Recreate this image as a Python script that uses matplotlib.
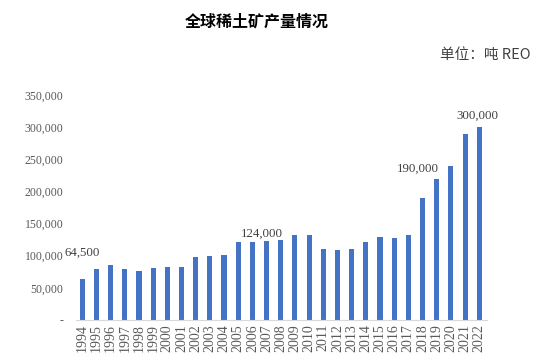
import matplotlib.pyplot as plt
from matplotlib.ticker import FuncFormatter

# global rare earth mine production, tonnes REO
years = [str(y) for y in range(1994, 2023)]
output = [64500, 80000, 85000, 80000, 76000, 81000, 83000, 83000, 98000, 99000,
          101000, 122000, 122000, 123000, 124000, 132000, 132000, 110000, 109000,
          110000, 122000, 129000, 128000, 132000, 190000, 220000, 240000, 290000,
          300000]
# annotated years
label_years = ['1994', '2008', '2018', '2022']
# (x offset in bars, y offset in tonnes) for each annotation
label_shift = [(0.0, 29000), (-1.3, -1000), (-0.3, 34000), (-0.1, 7500)]

plt.rcParams['font.family'] = ['Noto Sans CJK SC', 'DejaVu Sans']
serif = ['Liberation Serif', 'DejaVu Serif']

fig = plt.figure(figsize=(5.46, 3.64), dpi=100)
ax = fig.add_axes([0.139, 0.121, 0.753, 0.618])

x = list(range(len(years)))
ax.bar(x, output, width=0.36, color='#4472C4')

for yr, (dx, dy) in zip(label_years, label_shift):
    i = years.index(yr)
    ax.text(i + dx, output[i] + dy + 1500, f'{output[i]:,}', ha='center', va='bottom',
            family=serif, fontsize=9.3, color='#404040')

ax.set_ylim(0, 350000)
ax.set_xlim(-0.45, 28.55)
ax.set_yticks(range(0, 350001, 50000))
ax.yaxis.set_major_formatter(FuncFormatter(lambda v, p: '-' if v == 0 else f'{int(v):,}'))
ax.set_xticks(x)
ax.set_xticklabels(years, rotation=90)

for lab in ax.get_yticklabels():
    lab.set_family(serif)
    lab.set_fontsize(8.5)
    lab.set_color('#595959')
for lab in ax.get_xticklabels():
    lab.set_family(serif)
    lab.set_fontsize(10)
    lab.set_color('#595959')

ax.tick_params(axis='both', length=0)
ax.tick_params(axis='y', pad=9)
ax.tick_params(axis='x', pad=3)
for s in ['left', 'right', 'top']:
    ax.spines[s].set_visible(False)
ax.spines['bottom'].set_color('#D9D9D9')

fig.text(0.47, 0.94, '全球稀土矿产量情况', ha='center', va='center',
         fontsize=11.5, fontweight='bold', color='black')
fig.text(0.972, 0.85, '单位：吨 REO', ha='right', va='center',
         fontsize=10.5, color='#404040')

fig.savefig('out.png', dpi=100)
